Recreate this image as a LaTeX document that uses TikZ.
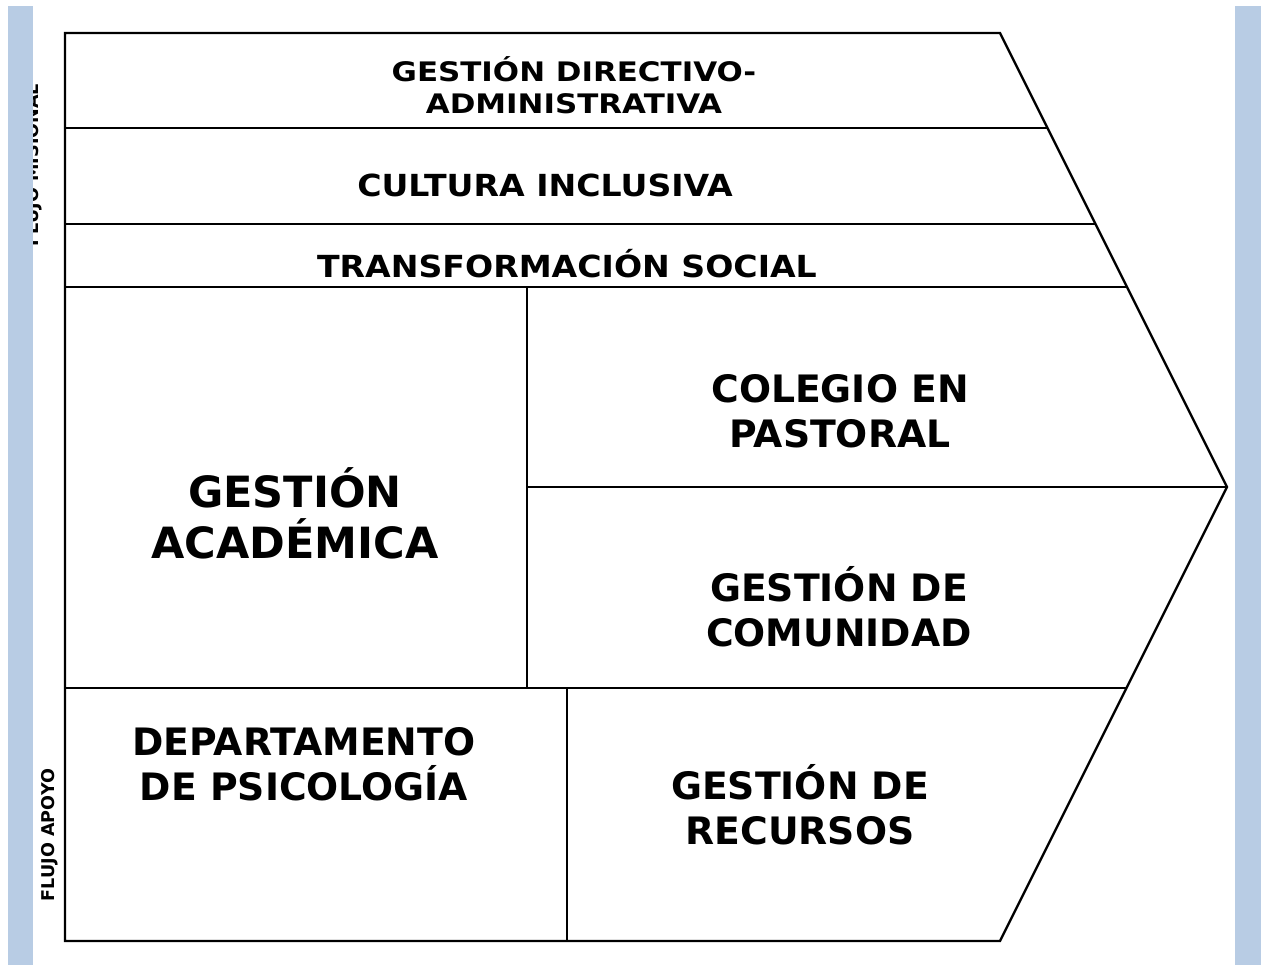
\documentclass[tikz,border=0pt]{standalone}
\usepackage{fontspec}
\setmainfont{DejaVu Sans}
\newfontfamily\topfont[FakeStretch=1.15]{DejaVu Sans}
\newfontfamily\rowfont[FakeStretch=1.09]{DejaVu Sans}
\definecolor{barblue}{HTML}{B8CCE4}
\begin{document}
\begin{tikzpicture}[x=0.02cm,y=-0.02cm,
  frame/.style={line width=1.35pt,line join=miter},
  lbl/.style={font=\bfseries,align=center,inner sep=0pt},
  toplbl/.style={lbl,font=\topfont\bfseries\fontsize{15.3}{18.5}\selectfont},
  small/.style={lbl,font=\rowfont\bfseries\fontsize{17.3}{20}\selectfont},
  mid/.style={lbl,font=\bfseries\fontsize{21.5}{25.5}\selectfont},
  big/.style={lbl,font=\bfseries\fontsize{24.5}{29}\selectfont},
  side/.style={font=\bfseries\fontsize{10}{12}\selectfont,rotate=90,anchor=base,inner sep=0pt}]
\useasboundingbox (0,0) rectangle (1268,965);
% hidden side label behind bar
\node[side] (mis) at (38,165) {FLUJO MISIONAL};
% side bars
\fill[barblue] (8,6) rectangle (33,965);
\fill[barblue] (1235,6) rectangle (1261,965);
% main chevron shape
\coordinate (tl) at (65,33);
\coordinate (tr) at (1000,33);
\coordinate (tip) at (1227,487);
\coordinate (br) at (1000,941);
\coordinate (bl) at (65,941);
\draw[frame] (tl) -- (tr) -- (tip) -- (br) -- (bl) -- cycle;
\draw[frame] (65,128) -- (1047.5,128);
\draw[frame] (65,224) -- (1095.5,224);
\draw[frame] (65,287) -- (1127,287);
\draw[frame] (527,487) -- (tip);
\draw[frame] (65,688) -- (1126.5,688);
\draw[frame] (527,287) -- (527,688);
\draw[frame] (567,688) -- (567,941);
% labels
\node[toplbl] (gda) at (574,85) {GESTIÓN DIRECTIVO-\\ADMINISTRATIVA};
\node[small] (ci) at (545,185) {CULTURA INCLUSIVA};
\node[small] (ts) at (567,264) {TRANSFORMACIÓN SOCIAL};
\node[mid] (cp) at (840,411) {COLEGIO EN\\PASTORAL};
\node[big] (ga) at (295,513) {GESTIÓN\\ACADÉMICA};
\node[mid] (gc) at (839,607) {GESTIÓN DE\\COMUNIDAD};
\node[mid] (dp) at (304,764) {DEPARTAMENTO\\DE PSICOLOGÍA};
\node[mid] (gr) at (800,805) {GESTIÓN DE\\RECURSOS};
\node[side] (apoyo) at (54,835) {FLUJO APOYO};
\end{tikzpicture}
\end{document}
